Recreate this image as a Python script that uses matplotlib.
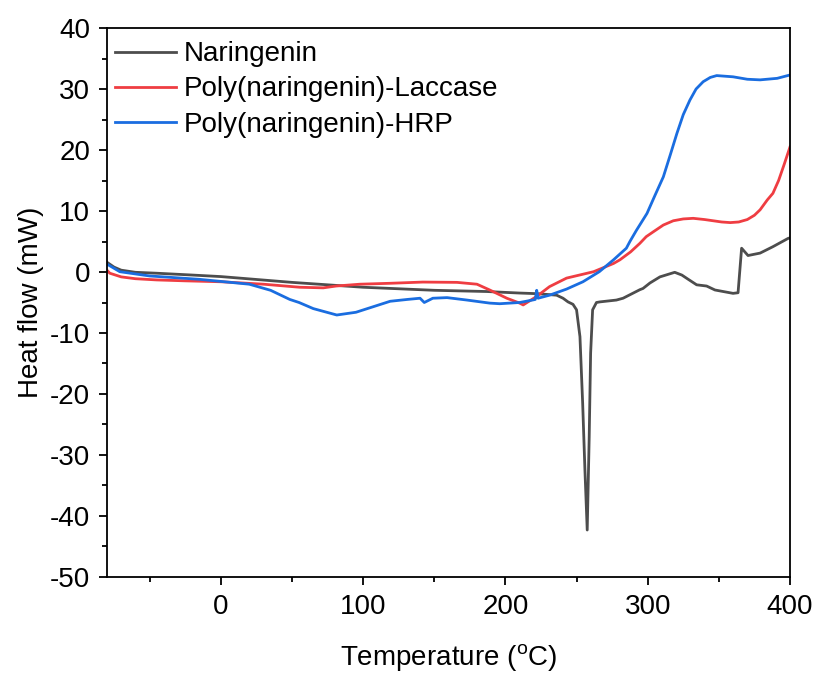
import numpy as np
import matplotlib
matplotlib.use('Agg')
import matplotlib.pyplot as plt
from matplotlib.ticker import MultipleLocator

plt.rcParams['font.family'] = ['Liberation Sans', 'DejaVu Sans']
plt.rcParams['mathtext.fontset'] = 'custom'
plt.rcParams['mathtext.rm'] = 'Liberation Sans'
plt.rcParams['axes.unicode_minus'] = False

# ── Data ──
t_nar = [-80, -75, -70, -60, -45, -20, 0, 50, 100, 150, 187, 196, 210, 222, 236,
         240.5, 244, 247.5, 250, 252.4, 254.3, 255.9, 257.5, 258.9, 259.9, 261.3,
         264, 266.4, 278, 282.7, 294.5, 296.7, 301.6, 308.6, 319, 324, 328.5,
         334.4, 341.4, 347.3, 360, 363.5, 366, 370.5, 379, 388, 398.6, 400]
h_nar = [1.6, 0.8, 0.3, -0.05, -0.2, -0.5, -0.75, -1.7, -2.5, -3.0, -3.2, -3.3,
         -3.45, -3.55, -3.8, -4.3, -4.9, -5.3, -6.2, -10.6, -21.5, -32.5, -42.3,
         -27.0, -13.3, -6.2, -5.0, -4.9, -4.6, -4.3, -2.9, -2.7, -1.8, -0.8,
         -0.05, -0.5, -1.2, -2.1, -2.3, -2.95, -3.5, -3.4, 3.9, 2.7, 3.1, 4.15,
         5.5, 5.6]

t_lac = [-80, -78, -70, -60, -45, -25, 0, 30, 55.5, 72, 81, 97.7, 119, 142, 166,
         180, 189, 201, 210, 212.5, 222, 231, 243, 262, 276, 280.5, 288, 294.5,
         299, 304, 311, 318, 325, 332, 340, 346, 352, 358, 364, 370, 375, 379,
         384, 388, 392, 396, 400]
h_lac = [0.3, -0.2, -0.8, -1.1, -1.3, -1.45, -1.6, -2.0, -2.5, -2.6, -2.3, -2.0,
         -1.85, -1.65, -1.7, -2.0, -2.95, -4.3, -5.1, -5.4, -4.0, -2.4, -1.0,
         0.05, 1.4, 2.0, 3.3, 4.7, 5.8, 6.6, 7.7, 8.4, 8.7, 8.8, 8.6, 8.4, 8.2,
         8.1, 8.2, 8.6, 9.3, 10.2, 11.8, 12.9, 15.0, 17.7, 20.5]

t_hrp = [-80, -71, -50, -15, 20, 35, 48.5, 55, 65, 81.5, 95, 107, 119, 131, 140,
         143, 149, 159, 173, 189, 196, 210, 219, 221, 222, 223, 231, 243, 254.5,
         266, 276, 285, 287.5, 292, 299.5, 305, 311, 316, 320.5, 325, 329.7, 334,
         339, 344, 348.5, 360, 370, 379, 391, 400]
h_hrp = [1.3, 0.05, -0.65, -1.2, -2.0, -3.0, -4.5, -5.0, -6.0, -7.05, -6.6, -5.7,
         -4.8, -4.5, -4.3, -5.0, -4.3, -4.2, -4.6, -5.1, -5.2, -5.0, -4.6, -4.5,
         -3.0, -4.3, -3.8, -2.8, -1.6, 0.05, 2.0, 3.9, 5.0, 6.8, 9.6, 12.5, 15.6,
         19.3, 22.7, 25.8, 28.2, 30.0, 31.2, 31.9, 32.2, 32.0, 31.6, 31.5, 31.75,
         32.3]

labels = ['Naringenin', 'Poly(naringenin)-Laccase', 'Poly(naringenin)-HRP']
colors = ['#4d4d4d', '#ef3d42', '#1a6de0']

fig = plt.figure(figsize=(8.14, 6.75), dpi=100)
ax = fig.add_axes([0.1314, 0.1452, 0.8391, 0.8133])

for t, h, lab, col in zip([t_nar, t_lac, t_hrp], [h_nar, h_lac, h_hrp], labels, colors):
    ax.plot(t, h, color=col, linewidth=2.0, label=lab)

ax.set_xlim(-80, 400)
ax.set_ylim(-50, 40)
ax.xaxis.set_major_locator(MultipleLocator(100))
ax.xaxis.set_minor_locator(MultipleLocator(50))
ax.yaxis.set_major_locator(MultipleLocator(10))
ax.yaxis.set_minor_locator(MultipleLocator(5))
ax.tick_params(which='major', direction='out', length=6, width=1.3, pad=6,
               labelsize=20, top=False, right=False)
ax.tick_params(which='minor', direction='out', length=3.5, width=1.3,
               top=False, right=False)
for sp in ax.spines.values():
    sp.set_linewidth(1.3)

ax.set_xlabel(r'Temperature ($^{\mathrm{o}}$C)', fontsize=20, labelpad=16)
ax.set_ylabel('Heat flow (mW)', fontsize=20, labelpad=4)

ax.legend(loc='upper left', fontsize=20, frameon=False, handlelength=2.2,
          handletextpad=0.3, labelspacing=0.33, borderaxespad=0.0,
          borderpad=0.2, bbox_to_anchor=(0.003, 0.986))

fig.savefig('out.png', dpi=100)
